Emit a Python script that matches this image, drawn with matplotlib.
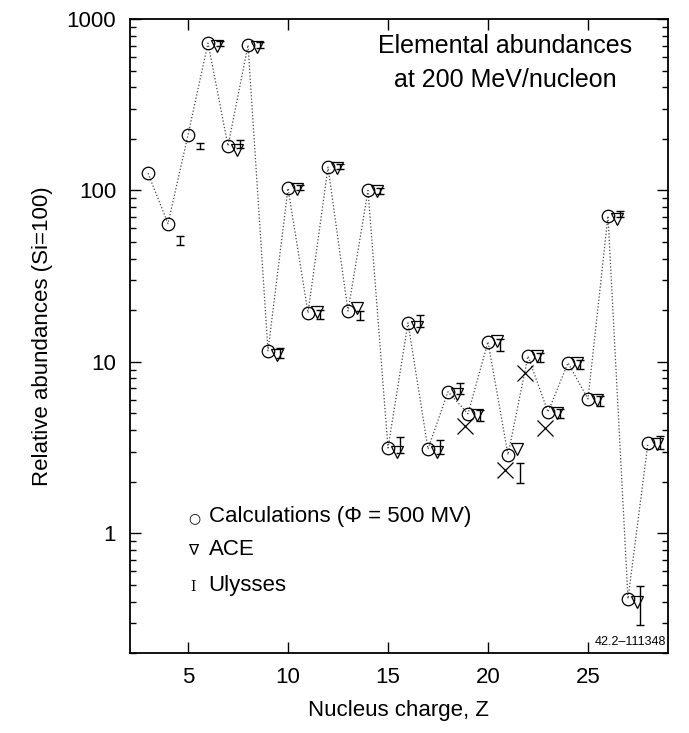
import matplotlib.pyplot as plt
import numpy as np

plt.rcParams['font.family'] = ['Liberation Sans', 'DejaVu Sans']

# calculated abundances, Si = 100
z_calc = [3, 4, 5, 6, 7, 8, 9, 10, 11, 12, 13, 14, 15, 16, 17, 18, 19, 20,
          21, 22, 23, 24, 25, 26, 27, 28]
calc = [126, 64, 211, 724, 182, 705, 11.6, 103, 19.3, 137, 19.8, 100, 3.15,
        16.9, 3.1, 6.7, 4.98, 13.1, 2.87, 10.8, 5.1, 9.87, 6.08, 71, 0.415, 3.37]

# ACE measurements
z_ace = [6, 7, 8, 9, 10, 11, 12, 13, 14, 15, 16, 17, 18, 19, 20, 21, 22, 23,
         24, 25, 26, 27, 28]
ace = [700, 172, 690, 11.0, 102, 19.5, 135, 20.5, 99, 3.0, 16.0, 3.0, 6.5,
       4.9, 13.3, 3.1, 10.8, 5.0, 9.8, 6.0, 68, 0.40, 3.3]

# Ulysses measurements with errors
z_uly = [4, 5, 6, 7, 8, 9, 10, 11, 12, 13, 14, 15, 16, 17, 18, 19, 20, 21,
         22, 23, 24, 25, 26, 27, 28]
uly = [51, 182, 720, 187, 705, 11.3, 104, 19.0, 138, 18.7, 100, 3.3, 17.4,
       3.2, 7.0, 4.9, 12.6, 2.27, 10.6, 5.0, 9.7, 5.9, 73, 0.39, 3.4]
uly_err = [3, 8, 25, 10, 25, 0.7, 4, 1.2, 5, 1.2, 4, 0.35, 1.4, 0.3, 0.5,
           0.35, 1.0, 0.3, 0.6, 0.3, 0.6, 0.4, 3, 0.1, 0.3]

# additional points drawn as crosses
z_x = [19, 21, 22, 23]
xval = [4.2, 2.35, 8.6, 4.12]

fig = plt.figure(figsize=(6.89, 7.33), dpi=100)
ax = fig.add_axes([0.1887, 0.109, 0.7808, 0.865])

ax.plot(z_calc, calc, ':', color='#444444', lw=0.9, zorder=1)
ax.plot(z_calc, calc, 'o', ms=9, mfc='none', mec='black', mew=0.9, zorder=2)
ax.plot(np.array(z_ace) + 0.45, ace, 'v', ms=8.5, mfc='none', mec='black',
        mew=0.9, zorder=2)
ax.errorbar(np.array(z_uly) + 0.6, uly, yerr=uly_err, fmt='none',
            ecolor='black', elinewidth=1.0, capsize=3.2, capthick=1.0, zorder=2)
ax.plot(np.array(z_x) - 0.15, xval, 'x', ms=11, mec='black', mew=0.9, zorder=2)

ax.set_yscale('log')
ax.set_xlim(2.1, 29)
ax.set_ylim(0.2, 1000)
ax.set_xticks([5, 10, 15, 20, 25])
ax.set_yticks([1, 10, 100, 1000])
ax.set_yticklabels(['1', '10', '100', '1000'])
ax.tick_params(which='both', direction='in', top=True, right=True,
               labelsize=16, width=1.0)
ax.tick_params(which='major', length=8, pad=10)
ax.tick_params(which='minor', length=4)
ax.tick_params(axis='x', which='minor', bottom=False, top=False)
for s in ax.spines.values():
    s.set_linewidth(1.3)

ax.set_xlabel('Nucleus charge, Z', fontsize=16, labelpad=9)
ax.set_ylabel('Relative abundances (Si=100)', fontsize=16, labelpad=10)

ax.text(0.697, 0.946, 'Elemental abundances', transform=ax.transAxes,
        ha='center', va='baseline', fontsize=18)
ax.text(0.697, 0.893, 'at 200 MeV/nucleon', transform=ax.transAxes,
        ha='center', va='baseline', fontsize=18)

# legend drawn as text lines
leg_y = [0.207, 0.155, 0.098]
ax.text(0.108, leg_y[0], '\u25cb', transform=ax.transAxes, fontsize=10,
        va='baseline', ha='left', family='DejaVu Sans')
ax.text(0.108, leg_y[1], '\u2207', transform=ax.transAxes, fontsize=11,
        va='baseline', ha='left', family='DejaVu Sans')
ax.text(0.112, leg_y[2], 'I', transform=ax.transAxes, fontsize=10,
        va='baseline', ha='left', family='DejaVu Serif')
ax.text(0.146, leg_y[0], 'Calculations (\u03a6 = 500 MV)',
        transform=ax.transAxes, fontsize=16, va='baseline', ha='left')
ax.text(0.146, leg_y[1], 'ACE', transform=ax.transAxes, fontsize=16,
        va='baseline', ha='left')
ax.text(0.146, leg_y[2], 'Ulysses', transform=ax.transAxes, fontsize=16,
        va='baseline', ha='left')

ax.text(0.997, 0.013, '42.2\u2013111348', transform=ax.transAxes,
        fontsize=9, ha='right', va='baseline')

fig.savefig('out.png', dpi=100)
